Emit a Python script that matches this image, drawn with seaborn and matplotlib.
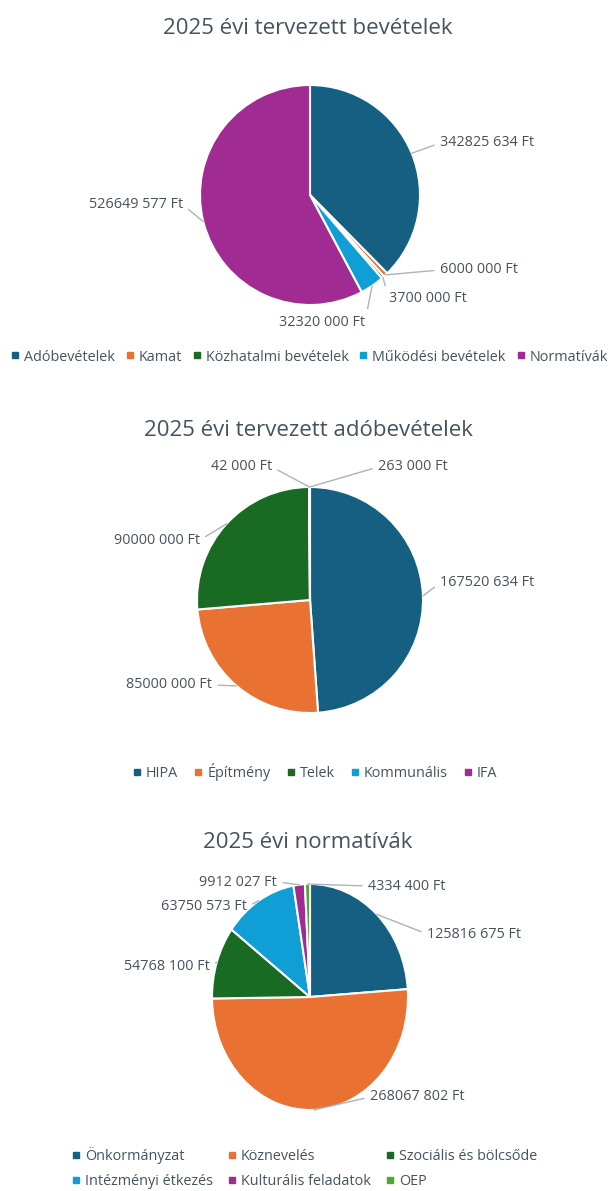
import numpy as np
import matplotlib
matplotlib.use("Agg")
import matplotlib.pyplot as plt
from matplotlib.lines import Line2D
import seaborn as sns

# ---- data ----
titles = ["2025 évi tervezett bevételek",
          "2025 évi tervezett adóbevételek",
          "2025 évi normatívák"]

cats1 = ["Adóbevételek", "Kamat", "Közhatalmi bevételek", "Működési bevételek", "Normatívák"]
vals1 = [342825634, 6000000, 3700000, 32320000, 526649577]

cats2 = ["HIPA", "Építmény", "Telek", "Kommunális", "IFA"]
vals2 = [167520634, 85000000, 90000000, 42000, 263000]

cats3 = ["Önkormányzat", "Köznevelés", "Szociális és bölcsőde",
         "Intézményi étkezés", "Kulturális feladatok", "OEP"]
vals3 = [125816675, 268067802, 54768100, 63750573, 9912027, 4334400]

palette_hex = ["#156082", "#E97132", "#196B24", "#0F9ED5", "#A02B93", "#4EA72E"]

sns.set_theme(style="white")
plt.rcParams['font.family'] = ['Open Sans', 'DejaVu Sans']
colors = sns.color_palette(palette_hex)

W, H = 616, 1191
fig = plt.figure(figsize=(W / 100, H / 100), dpi=100)
fig.patch.set_facecolor("white")

TXT = "#46525c"
TITLE = "#44535e"
LINE = "#a9b4bc"
FS = 10.4


def fmt(v):
    v = int(v)
    if v >= 1000:
        return f"{v // 1000} {v % 1000:03d} Ft"
    return f"{v} Ft"


def draw_pie(vals, cx, cy, rx, ry, title, ty, label_px):
    band = 440
    ax = fig.add_axes([0, (H - cy - band / 2) / H, 1, band / H])
    ax.pie(vals, colors=colors[:len(vals)], startangle=90, counterclock=False,
           radius=1, wedgeprops=dict(edgecolor="white", linewidth=1.5))
    ax.set_xlim(-cx / rx, (W - cx) / rx)
    ax.set_ylim(-band / 2 / ry, band / 2 / ry)
    ax.set_aspect("auto")
    ax.axis("off")
    total = float(sum(vals))
    start = 90.0
    for v, (px, py, ha) in zip(vals, label_px):
        span = 360.0 * v / total
        mid = np.deg2rad(start - span / 2)
        start -= span
        xy = (np.cos(mid), np.sin(mid))
        xt = ((px - cx) / rx, (cy - py) / ry)
        rel = (0.0, 0.5) if ha == "left" else (1.0, 0.5)
        ax.annotate(fmt(v), xy=xy, xytext=xt, ha=ha, va="center",
                    fontsize=FS, color=TXT,
                    arrowprops=dict(arrowstyle="-", color=LINE, lw=1.0,
                                    relpos=rel, shrinkA=2, shrinkB=0))
    fig.text(0.5, 1 - ty / H, title, ha="center", va="center",
             fontsize=16, color=TITLE)


def add_legend(cats, x, y, loc, ncol, colsp, order=None):
    idx = list(range(len(cats))) if order is None else order
    handles = [Line2D([0], [0], marker="s", linestyle="", markersize=4.5,
                      markerfacecolor=colors[i], markeredgecolor=colors[i])
               for i in idx]
    labels = [cats[i] for i in idx]
    fig.legend(handles, labels, loc=loc, bbox_to_anchor=(x / W, 1 - y / H),
               ncol=ncol, frameon=False, fontsize=FS, labelcolor=TITLE,
               handlelength=0.6, handletextpad=0.32, columnspacing=colsp,
               borderaxespad=0, borderpad=0, labelspacing=0.75)


# chart 1
draw_pie(vals1, 310, 195, 110, 110, titles[0], 28, [
    (440, 143, "left"),
    (440, 270, "left"),
    (389, 299, "left"),
    (365, 322, "right"),
    (183, 205, "right"),
])
add_legend(cats1, 10.5, 357, "center left", 5, 0.73)

# chart 2
draw_pie(vals2, 310, 600, 113, 113, titles[1], 430, [
    (440, 583, "left"),
    (212, 685, "right"),
    (200, 540, "right"),
    (272, 467, "right"),
    (378, 467, "left"),
])
add_legend(cats2, 315, 772, "center", 5, 1.1)

# chart 3 (slightly narrower in the reference)
draw_pie(vals3, 310, 997, 98, 113, titles[2], 843, [
    (427, 934, "left"),
    (370, 1097, "left"),
    (210, 967, "right"),
    (247, 907, "right"),
    (277, 882, "right"),
    (368, 886, "left"),
])
add_legend(cats3, 72, 1168, "center left", 3, 1.0, order=[0, 3, 1, 4, 2, 5])

fig.savefig("out.png", dpi=100, facecolor="white")
